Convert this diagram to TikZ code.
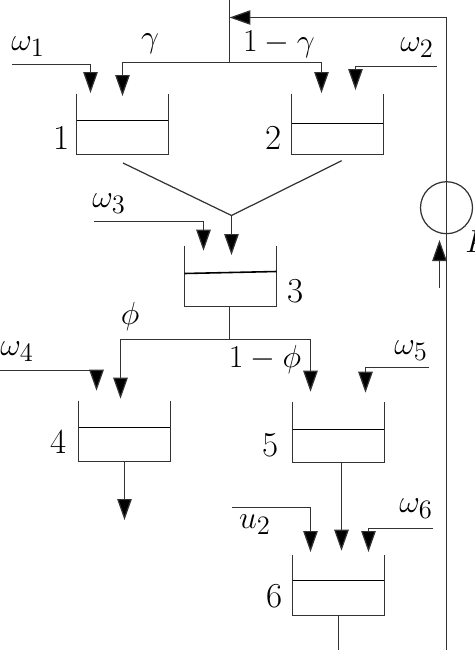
\documentclass[tikz,border=0pt]{standalone}
\usetikzlibrary{arrows.meta}
\definecolor{Ink}{HTML}{333333}
\tikzset{
  tank/.style={
    inner sep=0pt, outer sep=0pt, minimum width=1.84cm, minimum height=1.22cm
  },
  wall/.style={draw=Ink, line width=0.7pt},
  level/.style={draw=black, line width=0.9pt},
  tag/.style={inner sep=0pt, text=black, scale=1.05, font=\fontsize{19}{22}\selectfont},
  pipe/.style={draw=Ink, line width=0.7pt},
  flow/.style={-{Triangle[length=0.42cm,width=0.29cm,fill=black]}, draw=Ink, line width=0.7pt}
}

\begin{document}
\begin{tikzpicture}[x=0.02cm,y=-0.02cm]
    \useasboundingbox (0,0) rectangle (474,650);
    % tanks
    \node[tank] (tankA) at (122.5,124) {};
    \node[tank] (tankB) at (337.5,124) {};
    \node[tank] (tankC) at (230.5,276) {};
    \node[tank] (tankD) at (124.5,431) {};
    \node[tank] (tankE) at (338.5,432) {};
    \node[tank] (tankF) at (338.5,585) {};
    \foreach \t/\a/\b in {tankA/120.5/120.5,tankB/123.5/123.5,tankC/273.5/271.5,tankD/427.5/427.5,tankE/429.5/429.5,tankF/580.5/580.5}{
      \draw[wall] (\t.north west)|-(\t.south east)--(\t.north east);
      \draw[level] (\t.west|-0,\a)--(\t.east|-0,\b);
    }
    % tank numbers
    \node[tag] (numA) at (62,138) {1};
    \node[tag] (numB) at (274,138) {2};
    \node[tag] (numC) at (296,291) {3};
    \node[tag] (numD) at (59,442) {4};
    \node[tag] (numE) at (271,445) {5};
    \node[tag] (numF) at (275,596) {6};
    % labels
    \node[tag] (wA) at (28,47) {$\omega_1$};
    \node[tag] (wB) at (417,48) {$\omega_2$};
    \node[tag] (wC) at (109,204) {$\omega_3$};
    \node[tag] (wD) at (17,352) {$\omega_4$};
    \node[tag] (wE) at (411,351) {$\omega_5$};
    \node[tag] (wF) at (416,509) {$\omega_6$};
    \node[tag] (uB) at (255,525) {$u_2$};
    \node[tag] (gam) at (150,44) {$\gamma$};
    \node[tag] (gamB) at (279,44) {$1-\gamma$};
    \node[tag] (phi) at (130,317) {$\phi$};
    \node[tag] (phiB) at (265,360) {$1-\phi$};
    \node[tag,anchor=base west] (gain) at (465,252) {$K$};
    % junctions and free ends
    \coordinate (top) at (229.5,0);
    \coordinate (splitA) at (229.5,62.5);
    \coordinate (toA) at (122.5,96);
    \coordinate (toB) at (321.5,93);
    \coordinate (back) at (446.5,650);
    \coordinate (startA) at (12,64.5);
    \coordinate (endA) at (90.5,93);
    \coordinate (startB) at (436.7,66.5);
    \coordinate (endB) at (355.5,90);
    \coordinate (startC) at (94,221.5);
    \coordinate (endC) at (203.5,250.7);
    \coordinate (startD) at (0,370.5);
    \coordinate (endD) at (96.5,390.7);
    \coordinate (startE) at (429.3,367.5);
    \coordinate (endE) at (365.5,392.7);
    \coordinate (startF) at (432.7,528.5);
    \coordinate (endF) at (368.5,552);
    \coordinate (startU) at (232,507.5);
    \coordinate (endU) at (310.5,552);
    \coordinate (outA) at (123,163);
    \coordinate (outB) at (341.7,160.7);
    \coordinate (merge) at (231.5,215.5);
    \coordinate (toC) at (231.5,255);
    \coordinate (splitB) at (229.5,339.5);
    \coordinate (toD) at (120.5,398.7);
    \coordinate (toE) at (310.5,391.7);
    \coordinate (exitD) at (124.5,520);
    \coordinate (toF) at (341.5,550.7);
    \coordinate (exitF) at (338.5,650);
    \coordinate (pumpIn) at (439.5,288);
    \coordinate (pumpOut) at (439.5,240);
    % circle on the return line
    \node[circle,draw=Ink,line width=0.7pt,minimum size=1.04cm,inner sep=0pt] (pump) at (446.5,207.7) {};
    % connectors
    \draw[pipe] (top)--(splitA);
    \draw[flow] (splitA)-|(toA);
    \draw[flow] (splitA)-|(toB);
    \draw[flow] (back)|-(top|-0,17.5);
    \draw[flow] (startA)-|(endA);
    \draw[flow] (startB)-|(endB);
    \draw[flow] (startC)-|(endC);
    \draw[flow] (startD)-|(endD);
    \draw[flow] (startE)-|(endE);
    \draw[flow] (startF)-|(endF);
    \draw[flow] (startU)-|(endU);
    \draw[pipe] (outA)--(merge)--(outB);
    \draw[flow] (merge)--(toC);
    \draw[pipe] (tankC.south-|splitB)--(splitB);
    \draw[flow] (splitB)-|(toD);
    \draw[flow] (splitB)-|(toE);
    \draw[flow] (tankD.south-|exitD)--(exitD);
    \draw[flow] (tankE.south-|toF)--(toF);
    \draw[pipe] (tankF.south-|exitF)--(exitF);
    \draw[flow] (pumpIn)--(pumpOut);
  \end{tikzpicture}
\end{document}
